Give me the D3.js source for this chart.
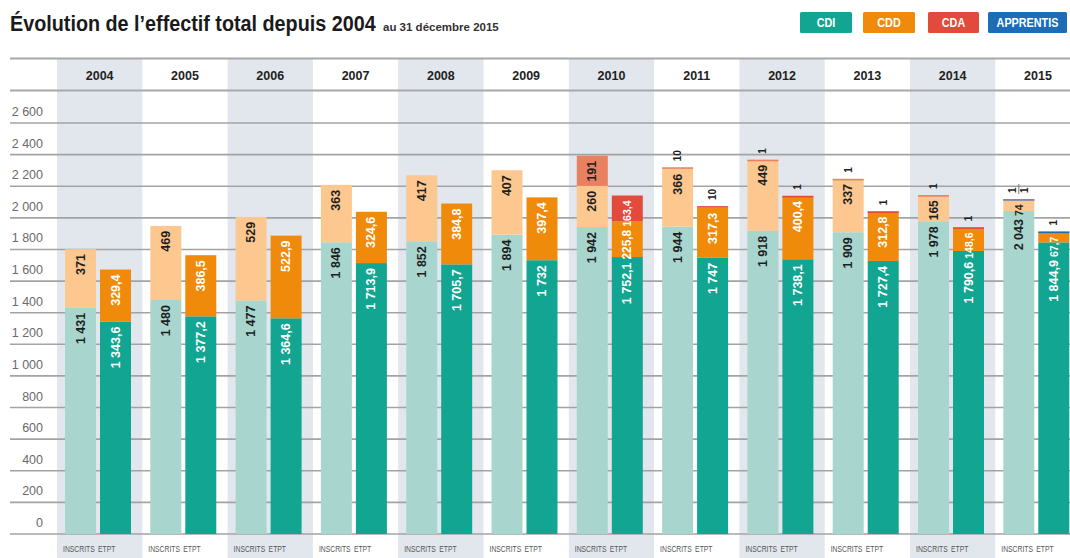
<!DOCTYPE html>
<html><head><meta charset="utf-8">
<script src="https://cdn.jsdelivr.net/npm/d3@7"></script>
<style>
html,body{margin:0;padding:0;background:#fff;}
svg{display:block;}
</style></head>
<body>
<svg id="chart" width="1070" height="558"></svg>
<script>
// ---------- DATA ----------
const years = ["2004","2005","2006","2007","2008","2009","2010","2011","2012","2013","2014","2015"];
const seriesKeys = ["CDI","CDD","CDA","APPRENTIS"];
const inscritsCDI = [1431,1480,1477,1846,1852,1894,1942,1944,1918,1909,1978,2043];
const inscritsCDD = [371,469,529,363,417,407,260,366,449,337,165,74];
const inscritsCDA = [0,0,0,0,0,0,191,10,1,1,1,1];
const inscritsAPP = [0,0,0,0,0,0,0,0,0,0,0,1];
const etptCDI = [1343.6,1377.2,1364.6,1713.9,1705.7,1732,1752.1,1747,1738.1,1727.4,1790.6,1844.9];
const etptCDD = [329.4,386.5,522.9,324.6,384.8,397.4,225.8,317.3,400.4,312.8,148.6,67.7];
const etptCDA = [0,0,0,0,0,0,163.4,10,1,1,1,0];
const etptAPP = [0,0,0,0,0,0,0,0,0,0,0,1];
const yTicks = [0,200,400,600,800,1000,1200,1400,1600,1800,2000,2200,2400,2600];
const barGroups = ["INSCRITS","ETPT"];
const titleText = "Évolution de l’effectif total depuis 2004";
const subtitleText = "au 31 décembre 2015";

// ---------- STYLE ----------
const lightColors = {CDI:"#a8d6ce", CDD:"#fcc88f", CDA:"#e9805f", APPRENTIS:"#5a92cf"};
const darkColors  = {CDI:"#12a592", CDD:"#f08a0b", CDA:"#e24b3b", APPRENTIS:"#1d6cb6"};
const sans = "'Liberation Sans',Arial,sans-serif";

const svg = d3.select("#chart");
const W = 1070, H = 558;

// ---------- SCALES ----------
const y = d3.scaleLinear().domain([0,2600]).range([534,123]);
const colX = d3.scaleBand().domain(years).range([57,57+12*85.3]).padding(0);
const sub = d3.scaleOrdinal().domain(barGroups).range([8,43]);
const barW = 31;

function condText(g, x, yy, k, str) {
  return g.append("text").attr("transform",`translate(${x},${yy}) scale(${k},1)`).text(str);
}

// ---------- BACKGROUND BANDS ----------
svg.append("g").selectAll("rect").data(years.filter((d,i)=>i%2===0)).join("rect")
  .attr("x", d=>colX(d)).attr("y",58).attr("width",colX.bandwidth()).attr("height",H-58)
  .attr("fill","#e2e7ed");

// ---------- GRIDLINES ----------
const fr = d3.formatLocale({decimal:",",thousands:" ",grouping:[3],currency:["","€"]});
const grid = svg.append("g");
grid.selectAll("line").data(yTicks).join("line")
  .attr("x1",10).attr("x2",W).attr("y1",d=>y(d)).attr("y2",d=>y(d))
  .attr("stroke","#a3a3a3").attr("stroke-width",1.6);
grid.selectAll("text").data(yTicks).join("text")
  .attr("x",43).attr("y",d=>y(d)-7).attr("text-anchor","end")
  .attr("font-family",sans).attr("font-size",12.5).attr("fill","#6a6a6a")
  .text(d=>fr.format(",")(d));

svg.append("line").attr("x1",10).attr("x2",W).attr("y1",58.5).attr("y2",58.5).attr("stroke","#a8a8a8").attr("stroke-width",2);
svg.append("line").attr("x1",10).attr("x2",W).attr("y1",90.5).attr("y2",90.5).attr("stroke","#a8a8a8").attr("stroke-width",2);

svg.append("g").selectAll("text").data(years).join("text")
  .attr("x",d=>colX(d)+colX.bandwidth()/2).attr("y",80).attr("text-anchor","middle")
  .attr("font-family",sans).attr("font-weight","bold").attr("font-size",12.5).attr("fill","#222")
  .text(d=>d);

// ---------- BARS ----------
const fmtVal = v => Number.isInteger(v) ? fr.format(",")(v) : fr.format(",.1f")(v);

const rows = years.map((yr,i)=>({
  year: yr,
  INSCRITS: {CDI:inscritsCDI[i], CDD:inscritsCDD[i], CDA:inscritsCDA[i], APPRENTIS:inscritsAPP[i]},
  ETPT: {CDI:etptCDI[i], CDD:etptCDD[i], CDA:etptCDA[i], APPRENTIS:etptAPP[i]}
}));

const stack = d3.stack().keys(seriesKeys);
const barsG = svg.append("g");
const labelsG = svg.append("g");

barGroups.forEach(grp=>{
  const colors = grp==="INSCRITS" ? lightColors : darkColors;
  const txtColor = grp==="INSCRITS" ? "#1e1e1e" : "#ffffff";
  const data = rows.map(r=>Object.assign({year:r.year}, r[grp]));
  const stacked = stack(data);
  years.forEach((yr,i)=>{
    const x0 = colX(yr) + sub(grp);
    const cx = x0 + barW/2;
    stacked.forEach(layer=>{
      const seg = layer[i], v = seg[1]-seg[0];
      if (v<=0) return;
      barsG.append("rect")
        .attr("x",x0).attr("width",barW)
        .attr("y",y(seg[1])).attr("height",Math.max(1.6,y(seg[0])-y(seg[1])))
        .attr("fill",colors[layer.key]);
    });
    let prevBottom = -Infinity;
    stacked.slice().reverse().forEach(layer=>{
      const seg = layer[i], v = seg[1]-seg[0];
      if (v<30) return;
      const segTop = y(seg[1]), segH = y(seg[0])-y(seg[1]);
      const t = labelsG.append("text")
        .attr("text-anchor","end").attr("dominant-baseline","central")
        .attr("font-family",sans).attr("font-weight","bold").attr("font-size",12.5)
        .attr("fill", txtColor).text(fmtVal(v));
      let L = t.node().getComputedTextLength();
      const avail = segH - 6;
      if (L > avail) { t.attr("font-size",Math.max(10.5, 12.5*avail/L)); L = t.node().getComputedTextLength(); }
      const top = Math.max(segTop+5, prevBottom+3);
      t.attr("transform",`translate(${cx},${top}) rotate(-90)`);
      prevBottom = top + L;
    });
    const d = data[i];
    const smalls = seriesKeys.filter(k=>d[k]>0 && d[k]<30);
    if (!smalls.length) return;
    const total = seriesKeys.reduce((s,k)=>s+d[k],0);
    const top = y(total)-6;
    const offs = smalls.length===1 ? [0] : smalls.map((k,j)=>(j-(smalls.length-1)/2)*12);
    smalls.forEach((k,j)=>{
      labelsG.append("text")
        .attr("transform",`translate(${cx+offs[j]},${top}) rotate(-90)`)
        .attr("text-anchor","start").attr("dominant-baseline","central")
        .attr("font-family",sans).attr("font-weight","bold").attr("font-size",10)
        .attr("fill","#1e1e1e").text(fmtVal(d[k]));
    });
    if (smalls.length>1) {
      labelsG.append("line").attr("x1",cx).attr("x2",cx)
        .attr("y1",top-9).attr("y2",top+1).attr("stroke","#777").attr("stroke-width",1);
    }
  });
});

const botG = svg.append("g").attr("font-family",sans).attr("font-size",8.5).attr("fill","#555");
years.forEach(yr=>{
  barGroups.forEach(grp=>{
    condText(botG, colX(yr)+sub(grp)-2, 552, 0.8, grp);
  });
});

// ---------- TITLE ----------
const title = svg.append("text")
  .attr("font-family",sans).attr("font-weight","bold").attr("font-size",21.5).attr("fill","#1a1a1a")
  .text(titleText);
const tw = title.node().getComputedTextLength();
const titleTarget = 366;
title.attr("transform",`translate(10,31) scale(${titleTarget/tw},1)`);
svg.append("text").attr("x",10+titleTarget+7).attr("y",31)
  .attr("font-family",sans).attr("font-weight","bold").attr("font-size",11.5).attr("fill","#333")
  .text(subtitleText);

// ---------- LEGEND ----------
const legendX = d3.scaleOrdinal().domain(seriesKeys).range([800,863,928,988]);
const legendW = {CDI:52,CDD:52,CDA:51,APPRENTIS:79};
const lg = svg.append("g");
seriesKeys.forEach(k=>{
  lg.append("rect").attr("x",legendX(k)).attr("y",12).attr("width",legendW[k]).attr("height",21)
    .attr("rx",1.5).attr("fill",darkColors[k]);
  lg.append("text").attr("text-anchor","middle")
    .attr("font-family",sans).attr("font-weight","bold").attr("font-size",12).attr("fill","#fff")
    .attr("transform",`translate(${legendX(k)+legendW[k]/2},27) scale(0.9,1)`)
    .text(k);
});
</script>
</body></html>
